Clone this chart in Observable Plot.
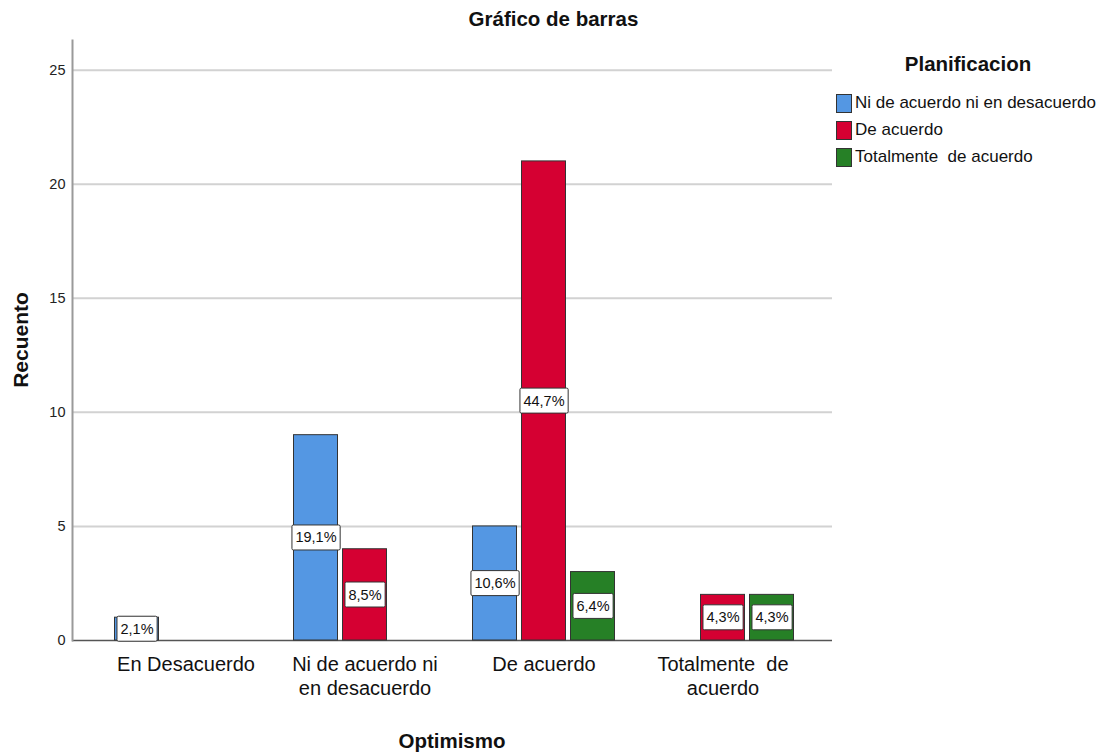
<!DOCTYPE html>
<html><head><meta charset="utf-8">
<script src="https://cdn.jsdelivr.net/npm/d3@7"></script>
<script src="https://cdn.jsdelivr.net/npm/@observablehq/plot@0.6"></script>
<style>
body{margin:0;background:#fff;font-family:"Liberation Sans",Arial,sans-serif;}
#wrap{position:relative;width:1107px;height:756px;overflow:hidden;background:#fff}
#title{position:absolute;left:0;top:7px;width:1107px;text-align:center;font-weight:bold;font-size:20.5px;color:#111}
#bg,#chart{position:absolute;left:0;top:0}
#ylab{position:absolute;left:21px;top:340px;transform:translate(-50%,-50%) rotate(-90deg);font-weight:bold;font-size:21px;color:#111;white-space:nowrap}
#xlab{position:absolute;left:452px;top:741px;transform:translate(-50%,-50%);font-weight:bold;font-size:20.5px;color:#111;white-space:nowrap}
#legend{position:absolute;left:836px;top:0;width:268px}
#legend .lt{position:absolute;left:0;top:52px;width:264px;text-align:center;font-weight:bold;font-size:20.5px;color:#111}
#legend .row{position:absolute;left:0;height:20px;display:flex;align-items:center;white-space:nowrap;font-size:17px;color:#111}
#legend .sw{width:14px;height:17px;border:1px solid #333;margin-right:3px;box-sizing:content-box}
</style></head>
<body>
<div id="wrap">
  <div id="bg"></div>
  <div id="chart"></div>
  <div id="title">Gráfico de barras</div>
  <div id="ylab">Recuento</div>
  <div id="xlab">Optimismo</div>
  <div id="legend"></div>
</div>
<script>
// Categories of the x axis (Optimismo)
const categories = ["En Desacuerdo", "Ni de acuerdo ni en desacuerdo", "De acuerdo", "Totalmente  de acuerdo"];
const categoryTickLabels = ["En Desacuerdo", "Ni de acuerdo ni\nen desacuerdo", "De acuerdo", "Totalmente  de\nacuerdo"];
// Series (Planificacion)
const series = ["Ni de acuerdo ni en desacuerdo", "De acuerdo", "Totalmente  de acuerdo"];
const seriesColors = ["#5497E3", "#D50032", "#268026"];
// Counts per category, one array per series
const countsNiDeAcuerdo = [1, 9, 5, 0];
const countsDeAcuerdo = [0, 4, 21, 2];
const countsTotalmente = [0, 0, 3, 2];
const yTicks = [0, 5, 10, 15, 20, 25];
const yMax = 26.3;

const seriesCounts = [countsNiDeAcuerdo, countsDeAcuerdo, countsTotalmente];
const total = d3.sum(seriesCounts.flat());
const table = [];
series.forEach((s, si) => {
  categories.forEach((c, ci) => {
    const v = seriesCounts[si][ci];
    if (v > 0) table.push({cat: c, series: s, value: v,
      pct: (v / total * 100).toFixed(1).replace(".", ",") + "%"});
  });
});

const common = {
  width: 840,
  height: 756,
  marginTop: 40,
  marginBottom: 116,
  style: {fontFamily: "'Liberation Sans', Arial, sans-serif", background: "transparent", color: "#111"}
};

// background layer: grid, y axis, baseline
const bg = Plot.plot({
  ...common,
  marginLeft: 72,
  marginRight: 8,
  y: {domain: [0, yMax], label: null},
  marks: [
    Plot.ruleY(yTicks.filter(d => d > 0), {stroke: "#d2d2d2", strokeWidth: 2}),
    Plot.axisY({ticks: yTicks, tickSize: 0, tickPadding: 7, fontSize: 14.5, fill: "#222", label: null}),
    Plot.ruleY([0], {stroke: "#555", strokeWidth: 1.6}),
    Plot.frame({anchor: "left", stroke: "#9a9a9a", strokeWidth: 2})
  ]
});
document.getElementById("bg").appendChild(bg);

// foreground layer: grouped bars
const plot = Plot.plot({
  ...common,
  marginLeft: 73.5,
  marginRight: 6.5,
  fx: {domain: categories, paddingInner: 0.18, paddingOuter: 0.2045, label: null},
  x: {domain: series, paddingInner: 0.1, paddingOuter: 0.05, axis: null},
  y: {domain: [0, yMax], axis: null},
  color: {domain: series, range: seriesColors},
  marks: [
    Plot.axisFx({anchor: "bottom", tickSize: 0, tickPadding: 13, fontSize: 20, lineHeight: 1.22,
      fill: "#111", label: null, tickFormat: d => categoryTickLabels[categories.indexOf(d)]}),
    Plot.rectY(table, {fx: "cat", x: "series", y: "value", fill: "series", stroke: "#333", strokeWidth: 1}),
    Plot.text(table, {fx: "cat", x: "series", y: d => d.value / 2, text: "pct", fontSize: 14.5, fill: "#111"})
  ]
});
document.getElementById("chart").appendChild(plot);

// white label boxes behind the percentage texts
plot.querySelectorAll("text").forEach(t => {
  if (!/%$/.test(t.textContent)) return;
  const bb = t.getBBox();
  const r = document.createElementNS("http://www.w3.org/2000/svg", "rect");
  r.setAttribute("x", bb.x - 3.5);
  r.setAttribute("y", bb.y - 4.5);
  r.setAttribute("width", bb.width + 7);
  r.setAttribute("height", bb.height + 9);
  r.setAttribute("rx", 1.5);
  r.setAttribute("fill", "white");
  r.setAttribute("stroke", "#333");
  r.setAttribute("stroke-width", 1);
  if (t.getAttribute("transform")) r.setAttribute("transform", t.getAttribute("transform"));
  t.parentNode.insertBefore(r, t);
});

// legend
const legend = document.getElementById("legend");
const lt = document.createElement("div");
lt.className = "lt"; lt.textContent = "Planificacion";
legend.appendChild(lt);
series.forEach((s, i) => {
  const row = document.createElement("div");
  row.className = "row";
  row.style.top = (93 + i * 27) + "px";
  const sw = document.createElement("span");
  sw.className = "sw"; sw.style.background = seriesColors[i];
  const tx = document.createElement("span");
  tx.textContent = s; tx.style.whiteSpace = "pre";
  row.appendChild(sw); row.appendChild(tx);
  legend.appendChild(row);
});
</script>
</body></html>
